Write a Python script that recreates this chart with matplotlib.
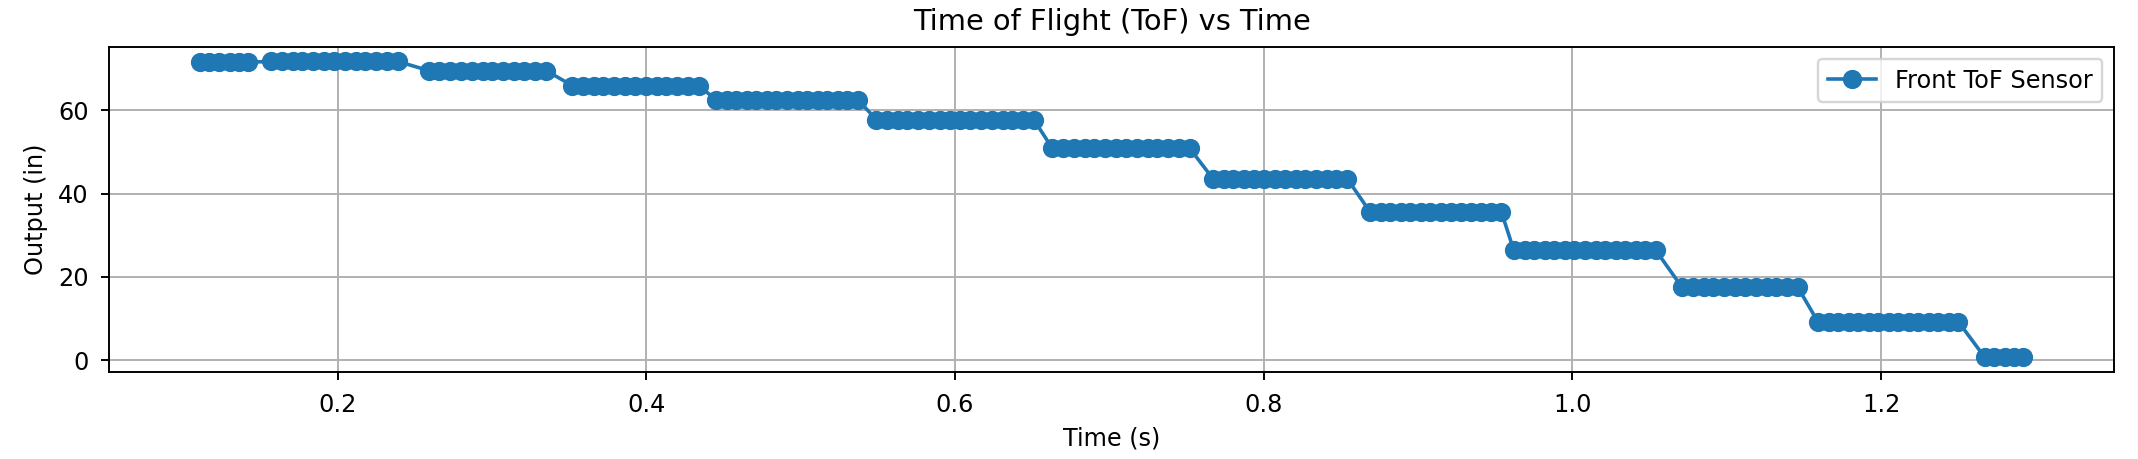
import numpy as np
import matplotlib
matplotlib.use("Agg")
import matplotlib.pyplot as plt

# Time stamps (s) of each reading, grouped by sensor step
t_a = [0.111, 0.117, 0.123, 0.130, 0.136, 0.142]
t_b = [0.157, 0.164, 0.171, 0.177, 0.184, 0.191, 0.198, 0.205, 0.212, 0.218, 0.225, 0.232, 0.239]
t_c = [0.259, 0.266, 0.273, 0.280, 0.287, 0.294, 0.300, 0.307, 0.314, 0.321, 0.328, 0.335]
t_d = [0.352, 0.359, 0.366, 0.372, 0.379, 0.386, 0.393, 0.400, 0.407, 0.413, 0.420, 0.427, 0.434]
t_e = [0.445, 0.452, 0.458, 0.465, 0.471, 0.478, 0.484, 0.491, 0.498, 0.504, 0.511, 0.517, 0.524, 0.530, 0.537]
t_f = [0.549, 0.556, 0.563, 0.569, 0.576, 0.583, 0.590, 0.597, 0.603, 0.610, 0.617, 0.624, 0.631, 0.637, 0.644, 0.651]
t_g = [0.663, 0.670, 0.677, 0.684, 0.690, 0.697, 0.704, 0.711, 0.718, 0.725, 0.731, 0.738, 0.745, 0.752]
t_h = [0.767, 0.774, 0.780, 0.787, 0.794, 0.800, 0.807, 0.814, 0.821, 0.827, 0.834, 0.841, 0.847, 0.854]
t_i = [0.869, 0.876, 0.882, 0.889, 0.895, 0.902, 0.908, 0.915, 0.921, 0.928, 0.934, 0.941, 0.947, 0.954]
t_j = [0.962, 0.969, 0.975, 0.982, 0.988, 0.995, 1.001, 1.008, 1.015, 1.021, 1.028, 1.034, 1.041, 1.047, 1.054]
t_k = [1.071, 1.078, 1.085, 1.091, 1.098, 1.105, 1.112, 1.119, 1.126, 1.132, 1.139, 1.146]
t_l = [1.159, 1.166, 1.172, 1.179, 1.185, 1.192, 1.198, 1.205, 1.211, 1.218, 1.224, 1.231, 1.237, 1.244, 1.250]
t_m = [1.267, 1.273, 1.280, 1.286, 1.292]

time_groups = [t_a, t_b, t_c, t_d, t_e, t_f, t_g, t_h, t_i, t_j, t_k, t_l, t_m]
# Sensor output (in) held during each group
step_values = [71.6, 71.8, 69.6, 66.0, 62.6, 57.8, 50.9, 43.6, 35.5, 26.3, 17.4, 9.1, 0.6]

time_s = np.concatenate([np.array(g) for g in time_groups])
output_in = np.concatenate([np.full(len(g), v) for g, v in zip(time_groups, step_values)])

DPI = 173
fig = plt.figure(figsize=(2138.4 / DPI, 459.4 / DPI), dpi=DPI)
ax = fig.add_axes([109 / 2138, 87 / 459, (2114 - 109) / 2138, (372 - 47) / 459])

ax.plot(time_s, output_in, marker='o', markersize=7, linewidth=1.5,
        color='#1f77b4', label='Front ToF Sensor')
ax.set_title('Time of Flight (ToF) vs Time', fontsize=12, pad=7)
ax.set_xlabel('Time (s)')
ax.set_ylabel('Output (in)')
ax.tick_params(axis='both', pad=5)
ax.grid(True)
ax.legend(loc='upper right')

fig.savefig('out.png', dpi=DPI)
